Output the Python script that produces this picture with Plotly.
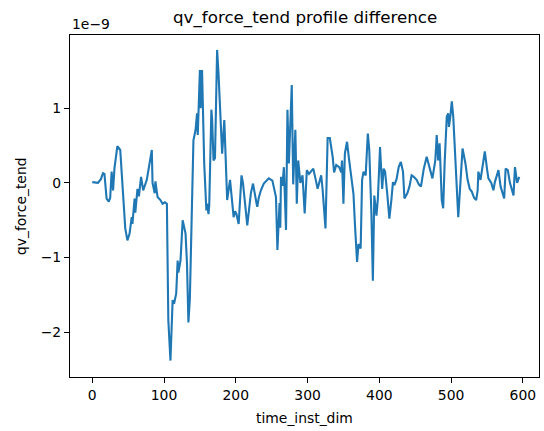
import plotly.graph_objects as go

SCALE = 1e-9

time_inst_dim = [0, 4, 8, 12, 15, 17, 20, 23, 25, 27, 29, 31, 35, 39, 41, 43, 46, 49, 52, 55,
                 56, 59, 60, 63, 65, 68, 71, 76, 80, 83, 84, 87, 88, 91, 95, 98, 101, 104, 106, 109,
                 112, 114, 117, 119, 120, 123, 126, 130, 132, 134, 136, 139, 141, 144, 146, 147, 150, 151, 153, 156,
                 158, 159, 160, 162, 163, 166, 167, 169, 171, 174, 176, 181, 184, 186, 188, 192, 197, 199, 201, 204,
                 208, 210, 214, 216, 221, 224, 229, 230, 232, 235, 239, 246, 251, 253, 256, 258, 260, 261, 262, 263,
                 265, 267, 270, 272, 274, 278, 280, 283, 285, 287, 290, 293, 296, 299, 302, 305, 308, 311, 314, 319,
                 321, 325, 328, 331, 335, 337, 340, 344, 347, 348, 350, 352, 355, 358, 362, 364, 366, 369, 371, 374,
                 376, 378, 381, 384, 386, 389, 391, 393, 396, 398, 401, 404, 406, 408, 411, 414, 417, 419, 421, 424,
                 427, 430, 433, 435, 439, 442, 445, 448, 452, 455, 458, 462, 466, 470, 474, 478, 480, 482, 484, 487,
                 489, 491, 494, 496, 497, 499, 501, 503, 505, 508, 510, 513, 516, 520, 523, 526, 529, 532, 535, 537,
                 538, 541, 545, 547, 550, 552, 556, 559, 561, 566, 569, 574, 576, 579, 582, 587, 589, 592, 595]

qv_force_tend = [0.01, 0.0, 0.0, 0.05, 0.13, 0.12, -0.21, -0.25, -0.2, 0.15, -0.1, 0.2, 0.49, 0.44, 0.15, -0.14, -0.61, -0.77, -0.68, -0.46,
                 -0.55, -0.21, -0.4, -0.08, -0.18, 0.08, -0.1, 0.04, 0.24, 0.44, 0.0, -0.14, 0.02, -0.19, -0.23, -0.28, -0.26, -0.28, -1.84, -2.38,
                 -1.57, -1.62, -1.48, -1.04, -1.2, -1.04, -0.5, -0.68, -1.08, -1.87, -1.55, -0.4, 0.57, 0.71, 0.93, 0.64, 1.51, 1.0, 1.51, 0.26,
                 -0.23, -0.37, -0.28, -0.42, -0.3, 0.98, 0.85, 0.3, 0.33, 1.78, 1.45, 0.39, 0.84, 0.4, -0.23, 0.04, -0.46, -0.38, -0.42, -0.55,
                 0.1, 0.0, -0.37, -0.57, -0.14, -0.01, -0.28, -0.32, -0.2, -0.1, -0.01, 0.06, 0.03, -0.08, -0.19, -0.9, -0.3, -0.27, -0.6, 0.08,
                 -0.04, 0.21, -0.63, 0.98, 0.26, 1.31, -0.02, 0.71, -0.28, 0.3, 0.0, 0.1, -0.41, 0.17, 0.12, 0.15, 0.19, 0.06, -0.08, 0.1,
                 -0.09, -0.61, 0.6, 0.6, 0.35, 0.14, 0.24, 0.21, 0.14, 0.3, -0.28, 0.39, 0.55, 0.3, -0.05, -0.15, -0.55, -1.06, -0.82, -0.88,
                 0.04, 0.15, 0.1, 0.66, 0.44, -0.42, -1.31, -0.17, -0.44, -0.21, 0.48, -0.08, 0.19, 0.15, -0.14, -0.48, -0.21, 0.01, -0.03, 0.05,
                 0.21, 0.28, 0.15, -0.21, -0.14, -0.05, 0.1, 0.08, 0.04, -0.02, -0.05, 0.19, 0.35, 0.19, 0.06, 0.3, 0.64, 0.3, 0.53, -0.23,
                 -0.34, 0.26, 0.89, 0.93, 0.75, 0.89, 1.09, 0.89, 0.5, -0.05, -0.46, 0.0, 0.46, 0.26, 0.04, -0.08, -0.12, -0.2, -0.23, -0.1,
                 0.15, 0.04, 0.26, 0.42, 0.19, 0.06, 0.0, -0.1, 0.01, 0.17, -0.05, -0.21, 0.19, 0.17, 0.0, -0.17, 0.21, 0.0, 0.08]

x_ticks = [0, 100, 200, 300, 400, 500, 600]
y_ticks = [-2, -1, 0, 1]
y_tick_text = ["\u22122", "\u22121", "0", "1"]

FONT = "DejaVu Sans"

fig = go.Figure()
fig.add_trace(go.Scatter(
    x=time_inst_dim,
    y=[v * SCALE for v in qv_force_tend],
    mode="lines",
    line=dict(color="#1f77b4", width=2.1),
    showlegend=False,
))

axis_common = dict(
    showline=True, mirror=True, linecolor="black", linewidth=1.1,
    ticks="outside", ticklen=5, tickwidth=1.1, tickcolor="black",
    showgrid=False, zeroline=False, automargin=False,
    tickfont=dict(family=FONT, size=13.9, color="black"),
)

fig.update_layout(
    width=544, height=431,
    margin=dict(l=70, r=5, t=35, b=54),
    paper_bgcolor="white", plot_bgcolor="white",
    font=dict(family=FONT, color="black"),
    xaxis=dict(range=[-31, 622.5], tickvals=x_ticks, **axis_common),
    yaxis=dict(range=[-2.60 * SCALE, 1.98 * SCALE],
               tickvals=[t * SCALE for t in y_ticks], ticktext=y_tick_text,
               **axis_common),
    annotations=[
        dict(text="qv_force_tend profile difference", xref="paper", yref="paper",
             x=0.5, y=1, xanchor="center", yanchor="bottom", yshift=5,
             showarrow=False, font=dict(family=FONT, size=16.7, color="black")),
        dict(text="1e\u22129", xref="paper", yref="paper",
             x=0, y=1, xanchor="left", yanchor="bottom", yshift=1,
             showarrow=False, font=dict(family=FONT, size=13.9, color="black")),
        dict(text="time_inst_dim", xref="paper", yref="paper",
             x=0.5, y=0, xanchor="center", yanchor="top", yshift=-31,
             showarrow=False, font=dict(family=FONT, size=13.9, color="black")),
        dict(text="qv_force_tend", xref="paper", yref="paper",
             x=0, y=0.5, xanchor="right", yanchor="middle", xshift=-39,
             textangle=-90,
             showarrow=False, font=dict(family=FONT, size=13.9, color="black")),
    ],
)

fig.write_html("out.html", config={"displayModeBar": False},
               post_script="document.body.style.margin='0';")
